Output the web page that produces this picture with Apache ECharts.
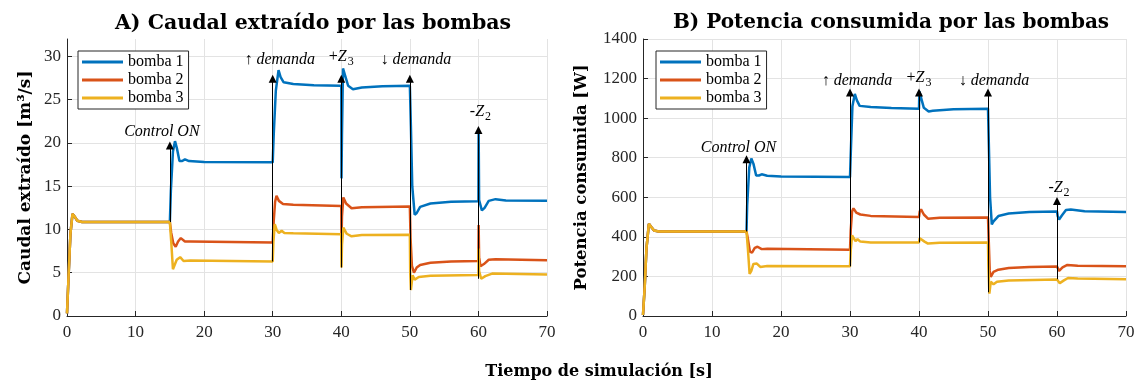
<!DOCTYPE html>
<html><head><meta charset="utf-8">
<script src="https://cdn.jsdelivr.net/npm/echarts@6/dist/echarts.min.js"></script>
<style>html,body{margin:0;padding:0;background:#fff}#c{width:1140px;height:386px}</style>
</head><body><div id="c"></div>
<script>
// ---------- data ----------
const seriesNames = ['bomba 1', 'bomba 2', 'bomba 3'];
const seriesColors = ['#0072BD', '#D95319', '#EDB120'];

const titleA = 'A) Caudal extraído por las bombas';
const titleB = 'B) Potencia consumida por las bombas';
const xName = 'Tiempo de simulación [s]';
const yNameA = 'Caudal extraído [m³/s]';
const yNameB = 'Potencia consumida [W]';

// Caudal extraído [m3/s]  -> [t, value]
const caudalB1 = [[0,0.3],[0.25,5],[0.5,9.5],[0.8,11.8],[1.1,11.5],[1.5,11.0],[2.2,10.85],[15,10.85],
  [15.15,14.5],[15.45,19],[15.75,20.2],[16.05,19.3],[16.4,17.9],[16.8,17.9],[17.2,18.1],[17.8,17.9],[20,17.8],[30,17.75],
  [30.15,21],[30.45,26],[30.85,28.4],[31.15,27.6],[31.6,27.0],[33,26.8],[36,26.65],[40,26.6],
  [40.03,15.9],[40.1,21],[40.25,28.6],[40.55,27.8],[41,26.6],[41.7,26.2],[43,26.4],[46,26.55],[50,26.6],
  [50.15,22],[50.35,15],[50.7,11.7],[51.0,11.9],[51.5,12.6],[53,13.0],[56,13.2],[60,13.25],
  [60.03,21.6],[60.1,13.4],[60.5,12.2],[60.9,12.5],[61.5,13.3],[62.5,13.5],[64,13.35],[70,13.3]];
const caudalB2 = [[0,0.3],[0.25,5],[0.5,9.5],[0.8,11.8],[1.1,11.5],[1.5,11.0],[2.2,10.85],[15,10.85],
  [15.2,9.6],[15.5,8.4],[15.85,8.0],[16.2,8.6],[16.6,9.0],[17.2,8.6],[18,8.6],[30,8.5],
  [30.15,11],[30.35,13.2],[30.55,13.9],[30.9,13.3],[31.5,12.95],[33,12.85],[40,12.7],
  [40.03,8.5],[40.1,11.5],[40.3,13.7],[40.7,13.0],[41.5,12.45],[43,12.55],[50,12.65],
  [50.1,9],[50.3,5.8],[50.6,5.0],[51,5.6],[51.5,5.9],[53,6.15],[56,6.3],[60,6.35],
  [60.03,10.5],[60.1,6.8],[60.3,5.75],[60.8,6.0],[61.5,6.5],[62.5,6.55],[70,6.45]];
const caudalB3 = [[0,0.3],[0.25,5],[0.5,9.5],[0.8,11.8],[1.1,11.5],[1.5,11.0],[2.2,10.85],[15,10.85],
  [15.2,8.6],[15.45,5.4],[15.7,5.6],[16.0,6.5],[16.5,6.8],[17,6.35],[18,6.4],[30,6.3],
  [30.1,8.6],[30.3,10.6],[30.6,9.9],[30.9,9.6],[31.3,9.85],[31.7,9.6],[33,9.55],[40,9.45],
  [40.03,5.6],[40.1,8.2],[40.3,10.2],[40.8,9.5],[41.5,9.2],[43,9.35],[50,9.4],
  [50.05,5],[50.15,3.0],[50.4,4.7],[50.7,4.2],[51.3,4.5],[53,4.65],[60,4.75],
  [60.03,7.8],[60.1,5.2],[60.4,4.3],[61,4.6],[62,4.9],[70,4.8]];

// Potencia consumida [W]  -> [t, value]
const potB1 = [[0,5],[0.25,150],[0.5,340],[0.85,466],[1.2,450],[1.6,432],[2.3,427],[15,427],
  [15.1,560],[15.4,750],[15.7,796],[16.0,770],[16.4,710],[16.8,710],[17.2,716],[18,709],[20,705],[30,702],
  [30.1,810],[30.35,1060],[30.7,1122],[31.0,1090],[31.4,1062],[33,1056],[36,1051],[40,1048],
  [40.05,1135],[40.2,1125],[40.7,1052],[41.4,1034],[42,1037],[45,1045],[50,1048],
  [50.1,900],[50.3,600],[50.55,463],[50.8,478],[51.5,505],[53,518],[56,526],[60,528],
  [60.1,505],[60.3,487],[60.7,508],[61.3,536],[62,538],[64,530],[70,526]];
const potB2 = [[0,5],[0.25,150],[0.5,340],[0.85,466],[1.2,450],[1.6,432],[2.3,427],[15,427],
  [15.2,390],[15.5,325],[15.8,320],[16.2,344],[16.6,350],[17.2,338],[18,340],[30,335],
  [30.1,430],[30.3,528],[30.5,544],[30.9,523],[31.5,513],[33,506],[40,500],
  [40.1,528],[40.3,539],[40.7,513],[41.3,492],[43,496],[50,498],
  [50.1,390],[50.25,228],[50.4,198],[50.8,223],[51.5,234],[53,243],[56,248],[60,250],
  [60.1,240],[60.3,228],[60.8,246],[61.5,258],[63,254],[70,252]];
const potB3 = [[0,5],[0.25,150],[0.5,340],[0.85,466],[1.2,450],[1.6,432],[2.3,427],[15,427],
  [15.2,340],[15.45,213],[15.7,228],[16.0,263],[16.5,265],[17,248],[18,253],[30,251],
  [30.1,330],[30.3,408],[30.5,414],[30.8,378],[31.1,388],[31.5,376],[33,372],[40,372],
  [40.1,393],[40.3,400],[40.8,376],[41.3,366],[43,370],[50,372],
  [50.05,258],[50.2,113],[50.4,173],[50.55,180],[50.8,160],[51.3,173],[53,180],[60,184],
  [60.1,176],[60.4,166],[61,180],[61.6,192],[63,189],[70,186]];

// Annotation arrows (time, from value, to value)
const arrowT = [15, 30, 40, 50, 60];
const arrowLabels = ['Control ON', '↑ demanda', '+Z3', '↓ demanda', '-Z2'];
const caudalArrowFrom = [10.85, 6.3, 5.6, 3.0, 4.3];
const caudalArrowTo = [19.7, 27.4, 27.4, 27.4, 21.5];
const potArrowFrom = [427, 251, 372, 120, 186];
const potArrowTo = [792, 1130, 1130, 1130, 581];

// ---------- chart ----------
const SERIF = '"Liberation Serif", "DejaVu Serif", serif';
const BOLDSERIF = '"DejaVu Serif", serif';
const AXC = '#262626';
const richFmt = {
  'Control ON': '{it|Control ON}',
  '↑ demanda': '{rm|↑ }{it|demanda}',
  '+Z3': '{rm|+}{it|Z}{sub|3}',
  '↓ demanda': '{rm|↓ }{it|demanda}',
  '-Z2': '{rm|-}{it|Z}{sub|2}'
};
const labelPad = [[0,16,0,0],[0,0,0,14],[0,0,0,0],[0,0,0,12],[0,0,0,4]];
const distA = [6, 11, 11, 11, 7];
const distB = [4, 4, 4, 4, 2];
const rich = {
  it: {fontFamily: SERIF, fontStyle: 'italic', fontSize: 16, color: '#000'},
  rm: {fontFamily: SERIF, fontSize: 16, color: '#000'},
  sub: {fontFamily: SERIF, fontSize: 12, color: '#000', verticalAlign: 'bottom', padding: [10, 0, 0, 1]}
};

function arrowSeries(idx, from, to, dist) {
  return {
    type: 'line', name: 'arrows', xAxisIndex: idx, yAxisIndex: idx, data: [], silent: true, z: 5,
    markLine: {
      silent: true, animation: false,
      symbol: ['none', 'triangle'], symbolSize: 8,
      lineStyle: {color: '#000', width: 1, type: 'solid'},
      label: {show: true, position: 'end', rich: rich, color: '#000'},
      data: arrowT.map((t, i) => [
        {coord: [t, from[i]], label: {formatter: richFmt[arrowLabels[i]], distance: dist[i], padding: labelPad[i]}},
        {coord: [t, to[i]]}
      ])
    }
  };
}
function lineSeries(idx, name, data, color) {
  return {type: 'line', name: name, xAxisIndex: idx, yAxisIndex: idx, data: data,
    showSymbol: false, symbol: 'none', lineStyle: {width: 2.5, color: color}, itemStyle: {color: color}, z: 3};
}
function xAxis(idx) {
  return {type: 'value', gridIndex: idx, min: 0, max: 70, interval: 10,
    axisLine: {show: true, onZero: false, lineStyle: {color: AXC, width: 1}},
    axisTick: {show: true, inside: true, length: 5, lineStyle: {color: AXC}},
    axisLabel: {fontFamily: SERIF, fontSize: 17, color: AXC, margin: 8},
    splitLine: {show: true, lineStyle: {color: '#e3e3e3', width: 1}}};
}
function legend(left) {
  return {data: seriesNames, orient: 'vertical', left: left, top: 51, icon: 'rect', itemWidth: 41, itemHeight: 3,
    itemGap: 0, padding: [2, 5, 2, 4], backgroundColor: '#fff', borderColor: AXC, borderWidth: 1, borderRadius: 0,
    textStyle: {fontFamily: SERIF, fontSize: 16, color: '#000', lineHeight: 18}};
}

const chart = echarts.init(document.getElementById('c'), null, {renderer: 'canvas'});
chart.setOption({
  animation: false,
  backgroundColor: '#fff',
  title: [
    {text: titleA, left: 308, top: 8, textAlign: 'center', textStyle: {fontFamily: BOLDSERIF, fontWeight: 'bold', fontSize: 20.5, color: '#000'}},
    {text: titleB, left: 886, top: 8, textAlign: 'center', textStyle: {fontFamily: BOLDSERIF, fontWeight: 'bold', fontSize: 20, color: '#000'}},
    {text: xName, left: 594, top: 359, textAlign: 'center', textStyle: {fontFamily: BOLDSERIF, fontWeight: 'bold', fontSize: 16, color: '#000'}}
  ],
  legend: [legend(78), legend(656)],
  grid: [
    {left: 67, right: 593, top: 39, bottom: 70, containLabel: false},
    {left: 643, right: 14, top: 39, bottom: 70, containLabel: false}
  ],
  xAxis: [xAxis(0), xAxis(1)],
  yAxis: [
    {type: 'value', gridIndex: 0, min: 0, max: 32, interval: 5,
      name: yNameA, nameLocation: 'middle', nameRotate: 90, nameGap: 33,
      nameTextStyle: {fontFamily: BOLDSERIF, fontWeight: 'bold', fontSize: 17, color: '#000'},
      axisLine: {show: true, lineStyle: {color: AXC, width: 1}},
      axisTick: {show: true, inside: true, length: 5, lineStyle: {color: AXC}},
      axisLabel: {fontFamily: SERIF, fontSize: 17, color: AXC, margin: 6, showMaxLabel: false},
      splitLine: {show: true, showMaxLine: false, lineStyle: {color: '#e3e3e3', width: 1}}},
    {type: 'value', gridIndex: 1, min: 0, max: 1400, interval: 200,
      name: yNameB, nameLocation: 'middle', nameRotate: 90, nameGap: 53,
      nameTextStyle: {fontFamily: BOLDSERIF, fontWeight: 'bold', fontSize: 16.5, color: '#000'},
      axisLine: {show: true, lineStyle: {color: AXC, width: 1}},
      axisTick: {show: true, inside: true, length: 5, lineStyle: {color: AXC}},
      axisLabel: {fontFamily: SERIF, fontSize: 17, color: AXC, margin: 6, formatter: v => String(v)},
      splitLine: {show: true, lineStyle: {color: '#e3e3e3', width: 1}}}
  ],
  series: [
    lineSeries(0, seriesNames[0], caudalB1, seriesColors[0]),
    lineSeries(0, seriesNames[1], caudalB2, seriesColors[1]),
    lineSeries(0, seriesNames[2], caudalB3, seriesColors[2]),
    arrowSeries(0, caudalArrowFrom, caudalArrowTo, distA),
    lineSeries(1, seriesNames[0], potB1, seriesColors[0]),
    lineSeries(1, seriesNames[1], potB2, seriesColors[1]),
    lineSeries(1, seriesNames[2], potB3, seriesColors[2]),
    arrowSeries(1, potArrowFrom, potArrowTo, distB)
  ]
});
</script></body></html>
